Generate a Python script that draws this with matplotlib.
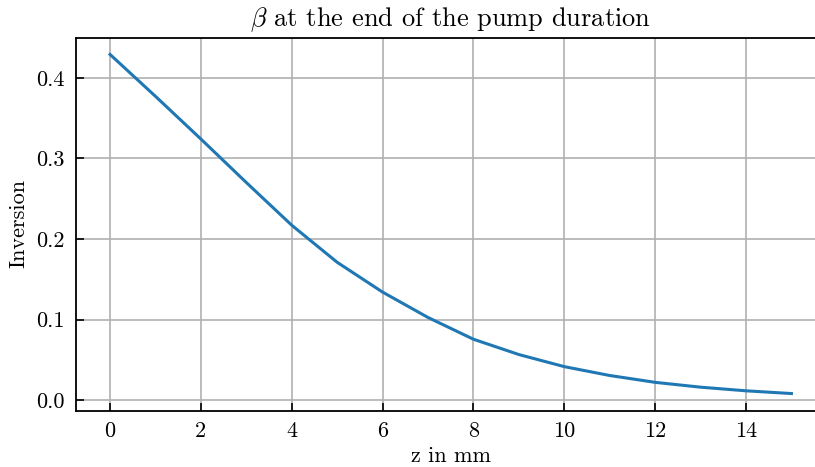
import matplotlib
matplotlib.use("Agg")
import matplotlib.pyplot as plt

z_mm = [0, 1, 2, 3, 4, 5, 6, 7, 8, 9, 10, 11, 12, 13, 14, 15]
inversion = [0.429, 0.377, 0.324, 0.270, 0.217, 0.171, 0.134, 0.1025, 0.0755,
             0.0565, 0.0415, 0.0305, 0.022, 0.016, 0.0115, 0.0081]
x_ticks = [0, 2, 4, 6, 8, 10, 12, 14]
y_ticks = [0.0, 0.1, 0.2, 0.3, 0.4]

plt.rcParams['font.family'] = ['cmr10', 'DejaVu Serif']
plt.rcParams['mathtext.fontset'] = 'cm'
plt.rcParams['axes.formatter.use_mathtext'] = True

fig = plt.figure(figsize=(8.15, 4.67), dpi=100)
ax = fig.add_axes([76/815, 1-410.5/467, 749.5/815, (410.5-37.5)/467])
ax.plot(z_mm, inversion, color='#1f77b4', lw=2.2)
ax.set_xticks(x_ticks)
ax.set_yticks(y_ticks)
ax.set_xticklabels([str(t) for t in x_ticks])
ax.set_yticklabels([f"{t:.1f}" for t in y_ticks])
ax.grid(True, color='#b0b0b0', lw=1.2)
ax.tick_params(direction='in', length=6, width=1.2, labelsize=16, pad=8)
for s in ax.spines.values():
    s.set_linewidth(1.3)
ax.set_xlabel('z in mm', fontsize=16, labelpad=4)
ax.set_ylabel('Inversion', fontsize=16, labelpad=6)
ax.set_title(r'$\beta$ at the end of the pump duration', fontsize=19, pad=8)
fig.savefig('out.png', dpi=100)
